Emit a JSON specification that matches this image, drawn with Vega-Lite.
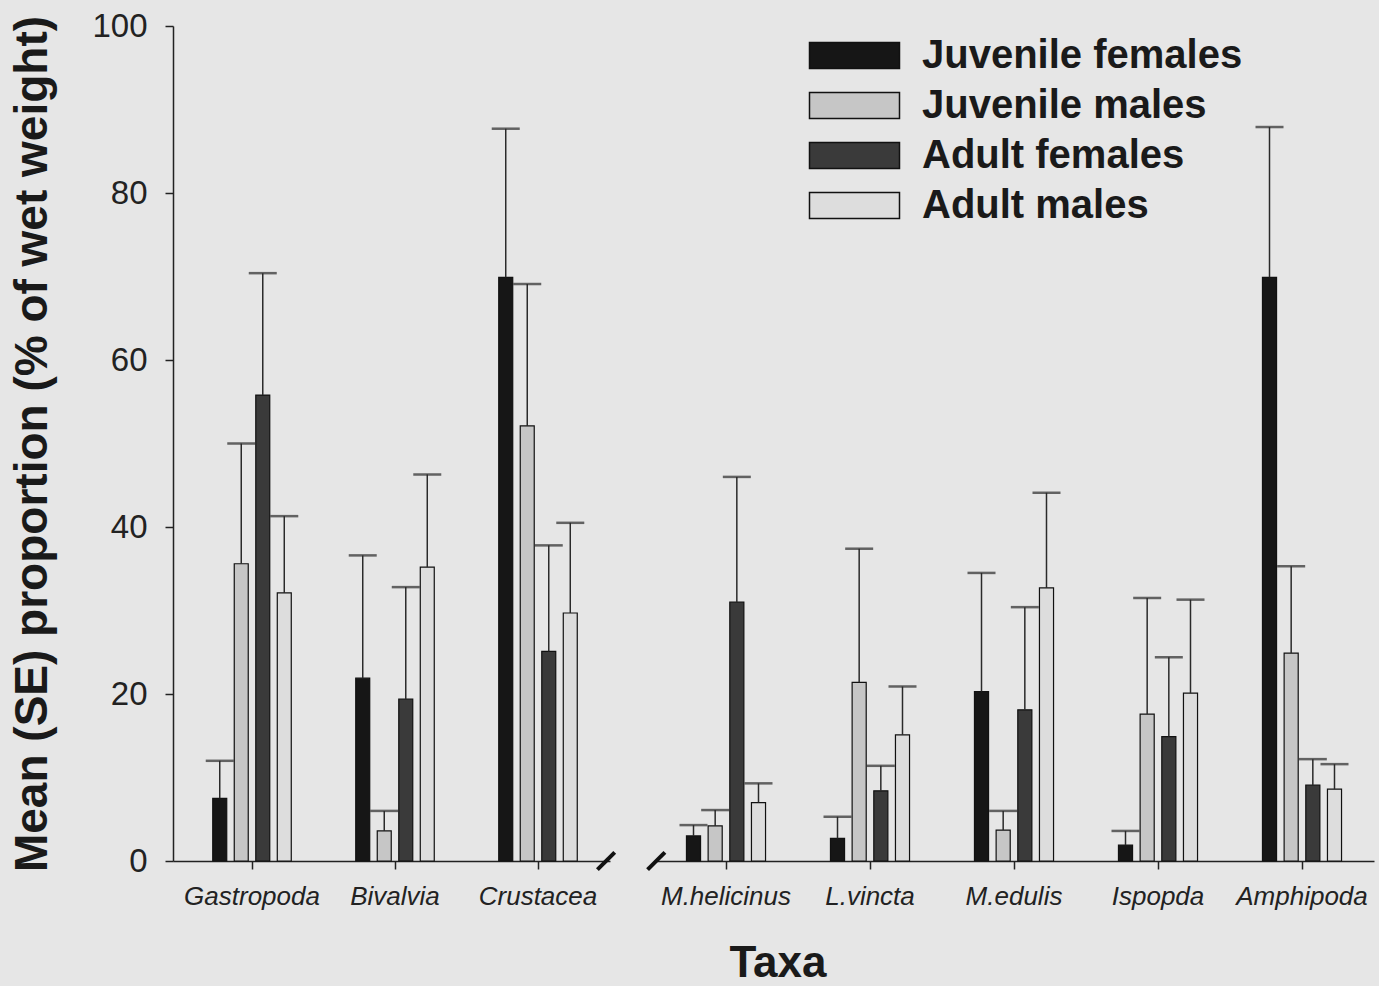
{
  "$schema": "https://vega.github.io/schema/vega-lite/v6.json",
  "background": "#e6e6e6",
  "padding": {"left": 9, "top": 10, "right": 5, "bottom": 0},
  "bounds": "flush",
  "spacing": 44,
  "title": {"text": "Taxa", "orient": "bottom", "anchor": "middle", "fontSize": 44, "fontWeight": "bold", "font": "Liberation Sans", "color": "#1a1a1a", "offset": 33, "dx": 86},
  "datasets": {
    "diet": [
      {"taxon": "Gastropoda", "group": "Juvenile females", "mean": 7.5, "upper": 12.0},
      {"taxon": "Gastropoda", "group": "Juvenile males", "mean": 35.6, "upper": 50.0},
      {"taxon": "Gastropoda", "group": "Adult females", "mean": 55.8, "upper": 70.4},
      {"taxon": "Gastropoda", "group": "Adult males", "mean": 32.1, "upper": 41.3},
      {"taxon": "Bivalvia", "group": "Juvenile females", "mean": 21.9, "upper": 36.6},
      {"taxon": "Bivalvia", "group": "Juvenile males", "mean": 3.6, "upper": 6.0},
      {"taxon": "Bivalvia", "group": "Adult females", "mean": 19.4, "upper": 32.8},
      {"taxon": "Bivalvia", "group": "Adult males", "mean": 35.2, "upper": 46.3},
      {"taxon": "Crustacea", "group": "Juvenile females", "mean": 69.9, "upper": 87.7},
      {"taxon": "Crustacea", "group": "Juvenile males", "mean": 52.1, "upper": 69.1},
      {"taxon": "Crustacea", "group": "Adult females", "mean": 25.1, "upper": 37.8},
      {"taxon": "Crustacea", "group": "Adult males", "mean": 29.7, "upper": 40.5},
      {"taxon": "M.helicinus", "group": "Juvenile females", "mean": 3.0, "upper": 4.3},
      {"taxon": "M.helicinus", "group": "Juvenile males", "mean": 4.2, "upper": 6.1},
      {"taxon": "M.helicinus", "group": "Adult females", "mean": 31.0, "upper": 46.0},
      {"taxon": "M.helicinus", "group": "Adult males", "mean": 7.0, "upper": 9.3},
      {"taxon": "L.vincta", "group": "Juvenile females", "mean": 2.7, "upper": 5.3},
      {"taxon": "L.vincta", "group": "Juvenile males", "mean": 21.4, "upper": 37.4},
      {"taxon": "L.vincta", "group": "Adult females", "mean": 8.4, "upper": 11.4},
      {"taxon": "L.vincta", "group": "Adult males", "mean": 15.1, "upper": 20.9},
      {"taxon": "M.edulis", "group": "Juvenile females", "mean": 20.3, "upper": 34.5},
      {"taxon": "M.edulis", "group": "Juvenile males", "mean": 3.7, "upper": 6.0},
      {"taxon": "M.edulis", "group": "Adult females", "mean": 18.1, "upper": 30.4},
      {"taxon": "M.edulis", "group": "Adult males", "mean": 32.7, "upper": 44.1},
      {"taxon": "Ispopda", "group": "Juvenile females", "mean": 1.9, "upper": 3.6},
      {"taxon": "Ispopda", "group": "Juvenile males", "mean": 17.6, "upper": 31.5},
      {"taxon": "Ispopda", "group": "Adult females", "mean": 14.9, "upper": 24.4},
      {"taxon": "Ispopda", "group": "Adult males", "mean": 20.1, "upper": 31.3},
      {"taxon": "Amphipoda", "group": "Juvenile females", "mean": 69.9, "upper": 87.9},
      {"taxon": "Amphipoda", "group": "Juvenile males", "mean": 24.9, "upper": 35.3},
      {"taxon": "Amphipoda", "group": "Adult females", "mean": 9.1, "upper": 12.2},
      {"taxon": "Amphipoda", "group": "Adult males", "mean": 8.6, "upper": 11.6}
    ]
  },
  "data": {"name": "diet"},
  "resolve": {"scale": {"color": "independent", "y": "independent", "x": "independent", "xOffset": "independent"}, "legend": {"color": "independent"}},
  "hconcat": [
    {
      "width": 437,
      "height": 835,
      "layer": [
        {
          "transform": [{"filter": {"field": "taxon", "oneOf": ["Gastropoda", "Bivalvia", "Crustacea"]}}],
          "encoding": {
            "x": {"field": "taxon", "type": "nominal", "sort": ["Gastropoda", "Bivalvia", "Crustacea"], "title": null,
                  "scale": {"paddingInner": 0.15, "paddingOuter": 0.103, "align": 0.619},
                  "axis": {"labelAngle": 0, "labelFontSize": 26, "labelFontStyle": "italic", "labelPadding": 14, "tickSize": 8}},
            "xOffset": {"field": "group", "type": "nominal", "sort": ["Juvenile females", "Juvenile males", "Adult females", "Adult males"],
                        "scale": {"paddingInner": 0.35, "paddingOuter": 1}}
          },
          "layer": [
            {
              "mark": {"type": "bar", "stroke": "#111111", "strokeWidth": 1.2},
              "encoding": {
                "y": {"field": "mean", "type": "quantitative", "scale": {"domain": [0, 100]},
                      "title": "Mean (SE) proportion (% of wet weight)",
                      "axis": {"values": [0, 20, 40, 60, 80, 100], "tickSize": 8, "labelFontSize": 33, "labelPadding": 18,
                               "titleFontSize": 46, "titleFontWeight": "bold", "titlePadding": 35}},
                "color": {"field": "group", "type": "nominal", "legend": null,
                          "scale": {"domain": ["Juvenile females", "Juvenile males", "Adult females", "Adult males"],
                                    "range": ["#161616", "#c6c6c6", "#3a3a3a", "#dddddd"]}}
              }
            },
            {
              "mark": {"type": "rule", "color": "#2a2a2a", "strokeWidth": 1.5},
              "encoding": {"y": {"field": "mean", "type": "quantitative"}, "y2": {"field": "upper"}}
            },
            {
              "mark": {"type": "tick", "color": "#2a2a2a", "thickness": 2.5, "size": 28},
              "encoding": {"y": {"field": "upper", "type": "quantitative"}}
            }
          ]
        },
        {
          "data": {"values": [{"mark": "axis break"}]},
          "mark": {"type": "point", "shape": "M-1,1L1,-1", "size": 300, "strokeWidth": 4, "color": "#111111", "filled": false, "opacity": 1},
          "encoding": {"x": {"datum": "Crustacea", "bandPosition": 1.06}, "y": {"datum": 0}}
        }
      ]
    },
    {
      "width": 720,
      "height": 835,
      "layer": [
        {
          "transform": [{"filter": {"field": "taxon", "oneOf": ["M.helicinus", "L.vincta", "M.edulis", "Ispopda", "Amphipoda"]}}],
          "encoding": {
            "x": {"field": "taxon", "type": "nominal", "sort": ["M.helicinus", "L.vincta", "M.edulis", "Ispopda", "Amphipoda"], "title": null,
                  "scale": {"paddingInner": 0.15, "paddingOuter": 0.075},
                  "axis": {"labelAngle": 0, "labelFontSize": 26, "labelFontStyle": "italic", "labelPadding": 14, "tickSize": 8}},
            "xOffset": {"field": "group", "type": "nominal", "sort": ["Juvenile females", "Juvenile males", "Adult females", "Adult males"],
                        "scale": {"paddingInner": 0.35, "paddingOuter": 1}}
          },
          "layer": [
            {
              "mark": {"type": "bar", "stroke": "#111111", "strokeWidth": 1.2},
              "encoding": {
                "y": {"field": "mean", "type": "quantitative", "scale": {"domain": [0, 100]}, "axis": null},
                "color": {"field": "group", "type": "nominal",
                          "sort": ["Juvenile females", "Juvenile males", "Adult females", "Adult males"],
                          "scale": {"domain": ["Juvenile females", "Juvenile males", "Adult females", "Adult males"],
                                    "range": ["#161616", "#c6c6c6", "#3a3a3a", "#dddddd"]},
                          "legend": {"orient": "none", "legendX": 177, "legendY": 6, "title": null,
                                     "symbolType": "M-2,-0.578L2,-0.578L2,0.578L-2,0.578Z", "symbolSize": 2025,
                                     "symbolStrokeColor": "#111111", "symbolStrokeWidth": 1.5,
                                     "labelFontSize": 40, "labelFontWeight": "bold", "labelColor": "#1a1a1a",
                                     "labelOffset": 44, "rowPadding": 6, "labelLimit": 600}}
              }
            },
            {
              "mark": {"type": "rule", "color": "#2a2a2a", "strokeWidth": 1.5},
              "encoding": {"y": {"field": "mean", "type": "quantitative"}, "y2": {"field": "upper"}}
            },
            {
              "mark": {"type": "tick", "color": "#2a2a2a", "thickness": 2.5, "size": 28},
              "encoding": {"y": {"field": "upper", "type": "quantitative"}}
            }
          ]
        },
        {
          "data": {"values": [{"mark": "axis break"}]},
          "mark": {"type": "point", "shape": "M-1,1L1,-1", "size": 300, "strokeWidth": 4, "color": "#111111", "filled": false, "opacity": 1},
          "encoding": {"x": {"datum": "M.helicinus", "bandPosition": -0.07}, "y": {"datum": 0}}
        }
      ]
    }
  ],
  "config": {
    "view": {"stroke": null},
    "font": "Liberation Sans",
    "axis": {"domainColor": "#222222", "tickColor": "#222222", "labelColor": "#222222", "titleColor": "#1a1a1a",
             "domainWidth": 1.5, "tickWidth": 1.5, "grid": false}
  }
}
